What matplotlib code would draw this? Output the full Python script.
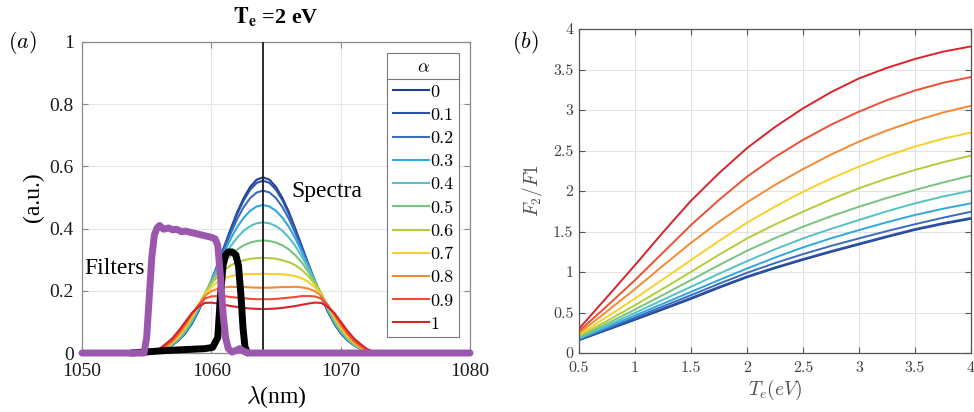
import matplotlib.pyplot as plt
import numpy as np
from matplotlib.lines import Line2D

plt.rcParams['mathtext.fontset'] = 'cm'
plt.rcParams['axes.unicode_minus'] = False

# --- data -------------------------------------------------------------------
alphas = ['0', '0.1', '0.2', '0.3', '0.4', '0.5', '0.6', '0.7', '0.8', '0.9', '1']
colors = ['#203f94', '#2b52a6', '#3b6bbd', '#2fa8e2', '#55c1c4', '#78c47e',
          '#b0cd3c', '#f8d02a', '#f68a33', '#ee4e36', '#d8232b']

# scattered spectra at Te = 2 eV, one row per alpha (0.5 nm grid)
wavelength = np.arange(1055.0, 1073.01, 0.5)
spectra = [
    [0, .002, .006, .014, .026, .042, .064, .095, .134, .183, .232, .286, .343, .399, .453, .498, .534, .557, .565,
     .557, .534, .498, .453, .399, .343, .286, .232, .183, .134, .095, .064, .042, .026, .014, .006, .002, 0],
    [0, .002, .006, .014, .026, .042, .065, .095, .135, .184, .232, .285, .341, .396, .447, .491, .525, .547, .554,
     .547, .525, .491, .447, .396, .341, .285, .232, .184, .135, .095, .065, .042, .026, .014, .006, .002, 0],
    [0, .002, .006, .014, .027, .043, .066, .097, .136, .185, .232, .283, .335, .385, .431, .469, .498, .516, .522,
     .516, .498, .469, .431, .385, .335, .283, .232, .185, .136, .097, .066, .043, .027, .014, .006, .002, 0],
    [0, .002, .006, .014, .027, .044, .068, .099, .139, .187, .232, .279, .325, .368, .405, .435, .457, .471, .476,
     .471, .457, .435, .405, .368, .325, .279, .232, .187, .139, .099, .068, .044, .027, .014, .006, .002, 0],
    [0, .002, .006, .015, .028, .046, .070, .103, .142, .189, .231, .272, .310, .344, .371, .393, .408, .417, .420,
     .417, .408, .393, .371, .344, .310, .272, .231, .189, .142, .103, .070, .046, .028, .015, .006, .002, 0],
    [0, .002, .006, .016, .030, .049, .074, .107, .146, .191, .228, .261, .291, .314, .333, .346, .355, .360, .362,
     .360, .355, .346, .333, .314, .291, .261, .228, .191, .146, .107, .074, .049, .030, .016, .006, .002, 0],
    [0, .002, .007, .016, .032, .052, .078, .112, .150, .191, .222, .247, .267, .282, .292, .298, .303, .305, .306,
     .305, .303, .298, .292, .282, .267, .247, .222, .191, .150, .112, .078, .052, .032, .016, .007, .002, 0],
    [0, .002, .007, .018, .034, .056, .083, .117, .153, .189, .212, .229, .240, .247, .251, .253, .254, .254, .255,
     .254, .254, .253, .251, .247, .240, .229, .212, .189, .153, .117, .083, .056, .034, .018, .007, .002, 0],
    [0, .002, .008, .019, .037, .061, .089, .122, .155, .184, .199, .207, .211, .213, .212, .212, .211, .210, .210,
     .210, .211, .212, .212, .213, .211, .207, .199, .184, .155, .122, .089, .061, .037, .019, .008, .002, 0],
    [0, .003, .011, .025, .041, .066, .095, .127, .153, .175, .182, .183, .183, .180, .178, .176, .174, .173, .173,
     .173, .174, .176, .178, .180, .183, .183, .182, .175, .153, .127, .095, .066, .041, .025, .011, .003, 0],
    [0, .004, .014, .030, .048, .073, .101, .129, .148, .161, .162, .159, .155, .151, .148, .145, .143, .142, .141,
     .142, .143, .145, .148, .151, .155, .159, .162, .161, .148, .129, .101, .073, .048, .030, .014, .004, 0],
]

# filter transmission curves
filter1_wl = [1050, 1054.8, 1055.0, 1055.2, 1055.4, 1055.6, 1055.8, 1056.0, 1056.3, 1056.7, 1057.0,
              1057.3, 1057.7, 1058.0, 1058.5, 1059.0, 1059.5, 1060.0, 1060.3, 1060.5, 1060.7, 1060.9,
              1061.1, 1061.3, 1061.6, 1061.9, 1062.2, 1062.4, 1062.7, 1063.0, 1080]
filter1 = [0, 0, 0.05, 0.18, 0.31, 0.38, 0.402, 0.41, 0.398, 0.402, 0.396,
           0.398, 0.39, 0.392, 0.387, 0.382, 0.377, 0.372, 0.367, 0.345, 0.25, 0.13,
           0.05, 0.015, 0.003, 0.008, 0.014, 0.008, 0.002, 0, 0]
filter2_wl = [1053.8, 1054.5, 1055.5, 1056.5, 1057.5, 1058.5, 1059.5, 1060.1, 1060.5, 1060.7, 1060.9,
              1061.1, 1061.3, 1061.6, 1061.9, 1062.1, 1062.3, 1062.45, 1062.6, 1062.8]
filter2 = [0, 0.002, 0.005, 0.008, 0.010, 0.012, 0.014, 0.018, 0.05, 0.18, 0.28,
           0.315, 0.325, 0.325, 0.315, 0.28, 0.18, 0.08, 0.02, 0.0]
probe_wl = 1064

# F2/F1 ratio vs electron temperature, one row per alpha
te = np.arange(0.5, 4.01, 0.25)
ratio = [
    [0.158, 0.284, 0.41, 0.538, 0.668, 0.805, 0.935, 1.047, 1.15, 1.248, 1.34, 1.432, 1.52, 1.593, 1.657],
    [0.162, 0.29, 0.418, 0.549, 0.68, 0.816, 0.945, 1.057, 1.16, 1.258, 1.35, 1.442, 1.53, 1.603, 1.667],
    [0.168, 0.302, 0.438, 0.576, 0.714, 0.855, 0.99, 1.11, 1.221, 1.322, 1.415, 1.505, 1.59, 1.67, 1.744],
    [0.175, 0.319, 0.463, 0.609, 0.755, 0.901, 1.043, 1.178, 1.304, 1.416, 1.518, 1.615, 1.704, 1.781, 1.848],
    [0.183, 0.338, 0.496, 0.657, 0.818, 0.979, 1.134, 1.28, 1.415, 1.533, 1.642, 1.75, 1.848, 1.932, 2.004],
    [0.195, 0.363, 0.537, 0.717, 0.90, 1.085, 1.262, 1.418, 1.559, 1.688, 1.806, 1.914, 2.013, 2.105, 2.19],
    [0.21, 0.396, 0.59, 0.794, 1.002, 1.213, 1.414, 1.587, 1.745, 1.896, 2.034, 2.154, 2.26, 2.355, 2.437],
    [0.225, 0.446, 0.673, 0.91, 1.147, 1.383, 1.608, 1.808, 1.99, 2.154, 2.301, 2.434, 2.549, 2.645, 2.722],
    [0.245, 0.515, 0.79, 1.078, 1.36, 1.62, 1.86, 2.075, 2.27, 2.45, 2.61, 2.748, 2.867, 2.969, 3.052],
    [0.27, 0.58, 0.90, 1.24, 1.58, 1.89, 2.177, 2.42, 2.631, 2.818, 2.98, 3.122, 3.241, 3.336, 3.407],
    [0.30, 0.69, 1.085, 1.49, 1.88, 2.22, 2.53, 2.79, 3.02, 3.22, 3.39, 3.52, 3.63, 3.72, 3.785],
]

xticks_a = [1050, 1060, 1070, 1080]
yticks_a = [0, 0.2, 0.4, 0.6, 0.8, 1]
ylabels_a = ['0', '0.2', '0.4', '0.6', '0.8', '1']
xticks_b = [0.5, 1, 1.5, 2, 2.5, 3, 3.5, 4]
xlabels_b = ['0.5', '1', '1.5', '2', '2.5', '3', '3.5', '4']
yticks_b = [0, 0.5, 1, 1.5, 2, 2.5, 3, 3.5, 4]
ylabels_b = ['0', '0.5', '1', '1.5', '2', '2.5', '3', '3.5', '4']

serif = 'Liberation Serif'

fig = plt.figure(figsize=(9.74, 4.12), dpi=100)
ax1 = fig.add_axes([82 / 974, 59 / 412, 388 / 974, 311 / 412])
ax2 = fig.add_axes([579 / 974, 59 / 412, 392 / 974, 324 / 412])

# --- panel (a): spectra and filters ------------------------------------------
for row, c, a in zip(spectra, colors, alphas):
    ax1.plot(wavelength, row, color=c, lw=1.5, label=a, zorder=2)
ax1.axvline(probe_wl, color='#1a1a1a', lw=1.3, zorder=3)
ax1.plot(filter2_wl, filter2, color='black', lw=5.0, solid_capstyle='round',
         solid_joinstyle='round', zorder=4, clip_on=False)
ax1.plot(filter1_wl, filter1, color='#9a57ad', lw=5.0, solid_capstyle='round',
         solid_joinstyle='round', zorder=5, clip_on=False)

ax1.set_xlim(1050, 1080)
ax1.set_ylim(0, 1)
ax1.set_xticks(xticks_a)
ax1.set_xticklabels([str(t) for t in xticks_a])
ax1.set_yticks(yticks_a)
ax1.set_yticklabels(ylabels_a)
for lab in ax1.get_xticklabels() + ax1.get_yticklabels():
    lab.set_family(serif)
    lab.set_fontsize(14)
    lab.set_color('#1a1a1a')
ax1.tick_params(direction='in', top=True, right=True, length=4, color='#888888')
ax1.tick_params(axis='x', pad=7)
ax1.tick_params(axis='y', pad=6)
ax1.grid(True, color='#e6e6e6', lw=0.8)
ax1.set_axisbelow(True)
for s in ax1.spines.values():
    s.set_color('#8c8c8c')
    s.set_linewidth(0.9)

ax1.set_xlabel(r'$\lambda$(nm)', family=serif, fontsize=17, labelpad=3)
ax1.set_ylabel('(a.u.)', family=serif, fontsize=17, labelpad=4)
ax1.set_title(r'$\mathbf{T}_\mathbf{e}$ =2 eV', family=serif, fontweight='bold',
              fontsize=16, pad=14, math_fontfamily='stix')
ax1.text(1050.15, 0.273, 'Filters', family=serif, fontsize=17, va='center', zorder=6)
ax1.text(1066.2, 0.52, 'Spectra', family=serif, fontsize=17, va='center', zorder=6)

leg = ax1.legend(title=r'$\alpha$', loc='upper right', bbox_to_anchor=(0.972, 0.965),
                 prop={'family': 'cmr10', 'size': 13}, title_fontsize=13,
                 handlelength=2.0, handletextpad=0.1, labelspacing=0.42,
                 borderpad=0.3, borderaxespad=0, fancybox=False,
                 edgecolor='#777777', framealpha=1)
leg.get_frame().set_linewidth(0.8)

fig.text(8 / 974, 1 - 48 / 412, r'$(a)$', fontsize=16)

# --- panel (b): filter ratio --------------------------------------------------
for row, c in zip(ratio, colors):
    ax2.plot(te, row, color=c, lw=1.4)

ax2.set_xlim(0.5, 4)
ax2.set_ylim(0, 4)
ax2.set_xticks(xticks_b)
ax2.set_xticklabels(xlabels_b)
ax2.set_yticks(yticks_b)
ax2.set_yticklabels(ylabels_b)
for lab in ax2.get_xticklabels() + ax2.get_yticklabels():
    lab.set_family('cmr10')
    lab.set_fontsize(11.5)
    lab.set_color('#404040')
ax2.tick_params(direction='in', top=True, right=True, length=4, color='#555555')
ax2.tick_params(axis='x', pad=6)
ax2.tick_params(axis='y', pad=4)
ax2.grid(True, color='#e3e3e3', lw=0.8)
ax2.set_axisbelow(True)
for s in ax2.spines.values():
    s.set_color('#555555')
    s.set_linewidth(0.9)
ax2.set_xlabel(r'$T_e(eV)$', fontsize=14, color='#505050', labelpad=2)
ax2.set_ylabel(r'$F_2/F1$', fontsize=14, color='#505050', labelpad=6)

fig.text(512 / 974, 1 - 48 / 412, r'$(b)$', fontsize=16)

# rule under the legend title
fig.canvas.draw()
lb = leg.get_window_extent()
tb = leg.get_title().get_window_extent()
inv = fig.transFigure.inverted()
(x0, y0), (x1, _) = inv.transform([(lb.x0, tb.y0 - 3), (lb.x1, tb.y0 - 3)])
fig.add_artist(Line2D([x0, x1], [y0, y0], color='#777777', lw=0.8))

fig.savefig('out.png', dpi=100)
